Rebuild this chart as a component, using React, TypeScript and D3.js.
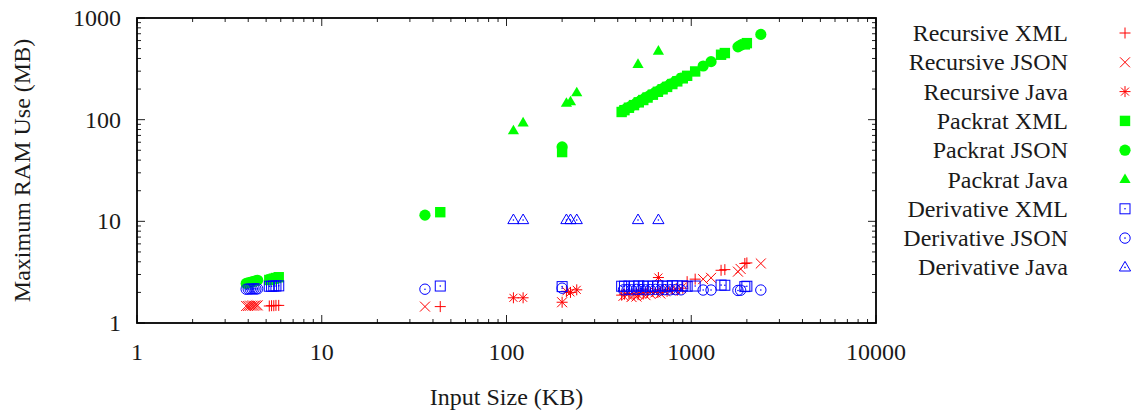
import * as d3 from 'd3';

// input file sizes (KB) per language
const xmlSizes = [5.2, 5.35, 5.5, 5.65, 5.85, 43.8, 200, 420, 435, 460, 490, 520, 550, 580, 620, 660, 700, 740, 790, 840, 900, 950, 1050, 1450, 1520, 1950, 2000];
const jsonSizes = [3.9, 4.0, 4.1, 4.2, 4.3, 4.4, 4.5, 36.2, 200, 430, 450, 475, 505, 535, 565, 600, 640, 680, 720, 770, 820, 880, 1160, 1280, 1790, 1850, 2380];
const javaSizes = [109, 123, 211, 222, 240, 515, 664];

// max RAM (MB), aligned with the sizes above
const recursiveXml = [1.47, 1.48, 1.48, 1.49, 1.49, 1.45, 1.6, 1.88, 1.92, 1.95, 1.9, 1.97, 1.93, 2.0, 2.05, 2.0, 2.1, 2.05, 2.15, 2.1, 2.2, 2.55, 2.7, 3.3, 3.35, 3.85, 3.9];
const recursiveJson = [1.47, 1.47, 1.48, 1.48, 1.48, 1.49, 1.49, 1.45, 1.6, 1.85, 1.9, 1.8, 1.82, 1.95, 1.88, 1.95, 2.0, 1.95, 2.05, 2.1, 2.15, 2.2, 2.7, 2.78, 3.2, 3.4, 3.85];
const recursiveJava = [1.77, 1.77, 2.05, 2.0, 2.12, 1.9, 2.8];
const packratXml = [2.65, 2.69, 2.73, 2.77, 2.82, 12.3, 48, 119, 124, 131, 139, 148, 156, 165, 176, 188, 199, 210, 224, 238, 255, 270, 298, 435, 452, 550, 566];
const packratJson = [2.45, 2.48, 2.51, 2.54, 2.57, 2.6, 2.63, 11.5, 54, 124, 130, 137, 146, 155, 164, 174, 186, 197, 209, 224, 238, 256, 337, 372, 520, 540, 690];
const packratJava = [78, 93, 145, 150, 184, 350, 473];
const derivativeXml = [2.3, 2.3, 2.31, 2.31, 2.32, 2.31, 2.28, 2.3, 2.3, 2.31, 2.3, 2.32, 2.3, 2.31, 2.3, 2.32, 2.31, 2.3, 2.33, 2.31, 2.32, 2.3, 2.31, 2.36, 2.35, 2.28, 2.3];
const derivativeJson = [2.15, 2.16, 2.16, 2.16, 2.17, 2.16, 2.17, 2.15, 2.2, 2.12, 2.13, 2.12, 2.14, 2.13, 2.12, 2.13, 2.14, 2.12, 2.13, 2.12, 2.13, 2.12, 2.11, 2.11, 2.09, 2.1, 2.11];
const derivativeJava = [10.3, 10.3, 10.3, 10.3, 10.3, 10.3, 10.3];

const xTicks = [1, 10, 100, 1000, 10000];
const yTicks = [1, 10, 100, 1000];

const RED = '#ff0000';
const GREEN = '#00ff00';
const BLUE = '#0000ff';
const FONT = "'Liberation Serif', 'Times New Roman', 'DejaVu Serif', serif";

type Kind = 'plus' | 'times' | 'star' | 'fsquare' | 'fcircle' | 'ftri' | 'osquare' | 'ocircle' | 'otri';

const series: { name: string; kind: Kind; color: string; xs: number[]; ys: number[] }[] = [
  { name: 'Recursive XML', kind: 'plus', color: RED, xs: xmlSizes, ys: recursiveXml },
  { name: 'Recursive JSON', kind: 'times', color: RED, xs: jsonSizes, ys: recursiveJson },
  { name: 'Recursive Java', kind: 'star', color: RED, xs: javaSizes, ys: recursiveJava },
  { name: 'Packrat XML', kind: 'fsquare', color: GREEN, xs: xmlSizes, ys: packratXml },
  { name: 'Packrat JSON', kind: 'fcircle', color: GREEN, xs: jsonSizes, ys: packratJson },
  { name: 'Packrat Java', kind: 'ftri', color: GREEN, xs: javaSizes, ys: packratJava },
  { name: 'Derivative XML', kind: 'osquare', color: BLUE, xs: xmlSizes, ys: derivativeXml },
  { name: 'Derivative JSON', kind: 'ocircle', color: BLUE, xs: jsonSizes, ys: derivativeJson },
  { name: 'Derivative Java', kind: 'otri', color: BLUE, xs: javaSizes, ys: derivativeJava },
];

const W = 1134;
const H = 412;
const left = 137;
const right = 876;
const top = 18;
const bottom = 323;

function Marker({ kind, color, x, y }: { kind: Kind; color: string; x: number; y: number }) {
  const s = 5.5;
  const d = 5;
  const dot = <circle cx={x} cy={y} r={0.8} fill={color} />;
  switch (kind) {
    case 'plus':
      return <path d={`M${x - s},${y}H${x + s}M${x},${y - s}V${y + s}`} stroke={color} fill="none" />;
    case 'times':
      return <path d={`M${x - d},${y - d}L${x + d},${y + d}M${x - d},${y + d}L${x + d},${y - d}`} stroke={color} fill="none" />;
    case 'star':
      return (
        <path
          d={`M${x - s},${y}H${x + s}M${x},${y - s}V${y + s}M${x - 4},${y - 4}L${x + 4},${y + 4}M${x - 4},${y + 4}L${x + 4},${y - 4}`}
          stroke={color}
          fill="none"
        />
      );
    case 'fsquare':
      return <rect x={x - 5.2} y={y - 5.2} width={10.4} height={10.4} fill={color} />;
    case 'fcircle':
      return <circle cx={x} cy={y} r={5.6} fill={color} />;
    case 'ftri':
      return <path d={`M${x},${y - 6}L${x + 5.6},${y + 3.6}L${x - 5.6},${y + 3.6}Z`} fill={color} />;
    case 'osquare':
      return (
        <g>
          <rect x={x - 5} y={y - 5} width={10} height={10} fill="none" stroke={color} />
          {dot}
        </g>
      );
    case 'ocircle':
      return (
        <g>
          <circle cx={x} cy={y} r={5.2} fill="none" stroke={color} />
          {dot}
        </g>
      );
    case 'otri':
      return (
        <g>
          <path d={`M${x},${y - 6}L${x + 5.6},${y + 3.6}L${x - 5.6},${y + 3.6}Z`} fill="none" stroke={color} />
          {dot}
        </g>
      );
  }
}

export default function App() {
  const x = d3.scaleLog().domain([1, 10000]).range([left, right]);
  const y = d3.scaleLog().domain([1, 1000]).range([bottom, top]);

  const xMinor = d3.range(0, 4).flatMap((e) => d3.range(2, 10).map((m) => m * 10 ** e));
  const yMinor = d3.range(0, 3).flatMap((e) => d3.range(2, 10).map((m) => m * 10 ** e));

  const legendY = (i: number) => 33 + i * 29.3;
  const txt = { fontFamily: FONT, fontSize: 24, fill: '#1a1a1a' };

  return (
    <svg width={W} height={H} style={{ position: 'absolute', left: 0, top: 0, background: '#fff' }}>
      {/* ticks, mirrored on all four sides */}
      <g stroke="#222" strokeWidth={1}>
        {xTicks.map((t) => (
          <g key={'xM' + t}>
            <line x1={x(t)} x2={x(t)} y1={bottom} y2={bottom - 8} />
            <line x1={x(t)} x2={x(t)} y1={top} y2={top + 8} />
          </g>
        ))}
        {xMinor.map((t) => (
          <g key={'xm' + t}>
            <line x1={x(t)} x2={x(t)} y1={bottom} y2={bottom - 4} />
            <line x1={x(t)} x2={x(t)} y1={top} y2={top + 4} />
          </g>
        ))}
        {yTicks.map((t) => (
          <g key={'yM' + t}>
            <line x1={left} x2={left + 8} y1={y(t)} y2={y(t)} />
            <line x1={right} x2={right - 8} y1={y(t)} y2={y(t)} />
          </g>
        ))}
        {yMinor.map((t) => (
          <g key={'ym' + t}>
            <line x1={left} x2={left + 4} y1={y(t)} y2={y(t)} />
            <line x1={right} x2={right - 4} y1={y(t)} y2={y(t)} />
          </g>
        ))}
      </g>

      {/* data */}
      {series.map((s) => (
        <g key={s.name}>
          {s.xs.map((v, i) => (
            <Marker key={i} kind={s.kind} color={s.color} x={x(v)} y={y(s.ys[i])} />
          ))}
        </g>
      ))}

      {/* frame */}
      <rect x={left} y={top} width={right - left} height={bottom - top} fill="none" stroke="#000" strokeWidth={1.8} />

      {/* tick labels and titles */}
      {yTicks.map((t) => (
        <text key={'yl' + t} x={121} y={y(t)} textAnchor="end" dominantBaseline="central" style={txt}>
          {t}
        </text>
      ))}
      {xTicks.map((t) => (
        <text key={'xl' + t} x={x(t)} y={352} textAnchor="middle" dominantBaseline="central" style={txt}>
          {t}
        </text>
      ))}
      <text x={(left + right) / 2} y={397} textAnchor="middle" dominantBaseline="central" style={txt}>
        Input Size (KB)
      </text>
      <text
        transform={`translate(22,${(top + bottom) / 2}) rotate(-90)`}
        textAnchor="middle"
        dominantBaseline="central"
        style={txt}
      >
        Maximum RAM Use (MB)
      </text>

      {/* legend */}
      {series.map((s, i) => (
        <g key={'lg' + s.name}>
          <text x={1068} y={legendY(i)} textAnchor="end" dominantBaseline="central" style={txt}>
            {s.name}
          </text>
          <Marker kind={s.kind} color={s.color} x={1125} y={legendY(i)} />
        </g>
      ))}
    </svg>
  );
}
